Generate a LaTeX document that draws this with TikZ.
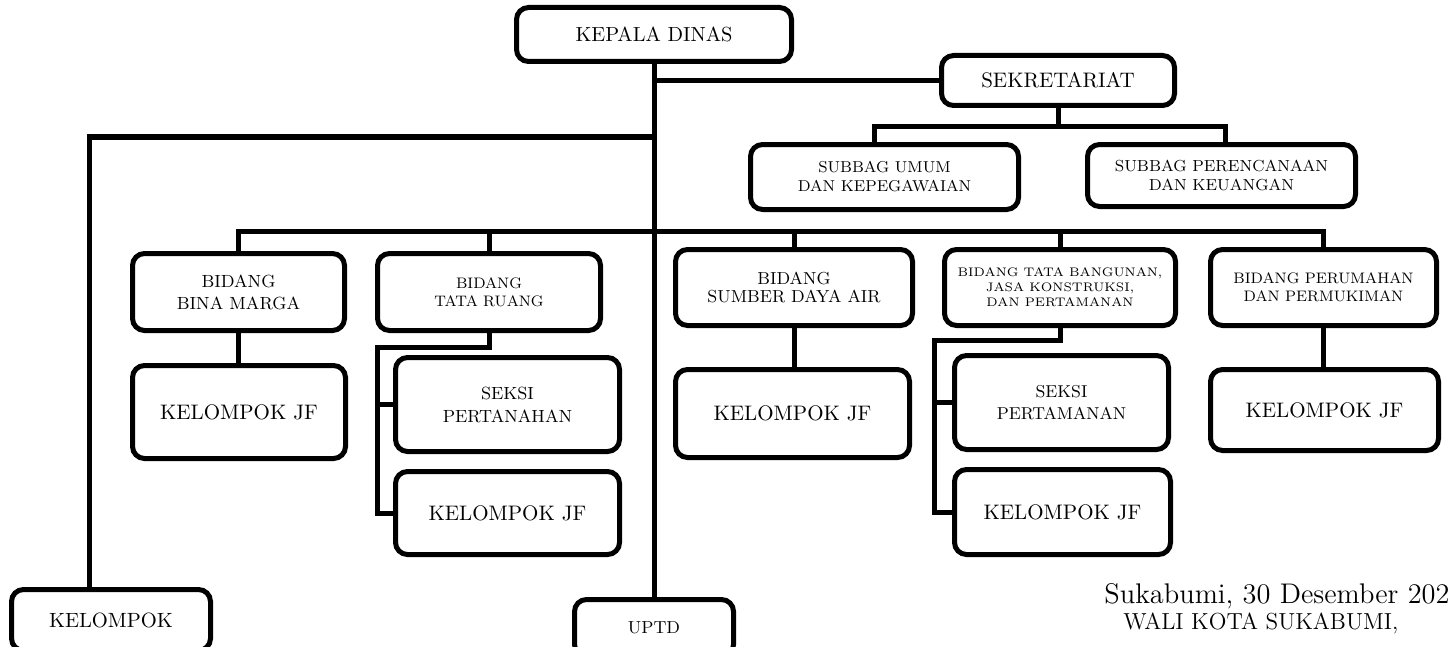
\documentclass[tikz,border=0pt]{standalone}
\usetikzlibrary{calc}

\begin{document}
\begin{tikzpicture}[x=0.5pt, y=-0.5pt,
  box/.style={draw, line width=2.5pt, rounded corners=6pt, align=center, inner sep=1pt},
  link/.style={line width=2.5pt}]
  \useasboundingbox (0,0) rectangle (1450,647);

  % top
  \node[box, minimum width=137.5pt, minimum height=27pt, font=\fontsize{10.2}{12}\selectfont] (kepala) at (654,34.5) {KEPALA DINAS};
  \node[box, minimum width=116.5pt, minimum height=25pt, font=\fontsize{10.5}{12}\selectfont] (sekre) at (1058,80.5) {SEKRETARIAT};
  \node[box, minimum width=134pt, minimum height=32.5pt, font=\fontsize{7.9}{9.5}\selectfont] (umum) at (884.5,177) {SUBBAG UMUM\\DAN KEPEGAWAIAN};
  \node[box, minimum width=134pt, minimum height=31pt, font=\fontsize{8}{9.8}\selectfont] (renc) at (1221.5,175.5) {SUBBAG PERENCANAAN\\DAN KEUANGAN};

  % bidang
  \node[box, minimum width=106pt, minimum height=38.5pt, font=\fontsize{8.8}{11}\selectfont] (marga) at (238.5,292) {BIDANG\\BINA MARGA};
  \node[box, minimum width=111.5pt, minimum height=38.5pt, font=\fontsize{7.6}{9}\selectfont] (ruang) at (489,292) {BIDANG\\TATA RUANG};
  \node[box, minimum width=118.5pt, minimum height=38pt, font=\fontsize{8.7}{9}\selectfont] (air) at (794,287.5) {BIDANG\\SUMBER DAYA AIR};
  \node[box, minimum width=115.5pt, minimum height=38pt, font=\fontsize{6.2}{7.5}\selectfont] (bangunan) at (1060,287.5) {BIDANG TATA BANGUNAN,\\JASA KONSTRUKSI,\\DAN PERTAMANAN};
  \node[box, minimum width=113pt, minimum height=38pt, font=\fontsize{7.6}{9}\selectfont] (rumah) at (1323.5,287.5) {BIDANG PERUMAHAN\\DAN PERMUKIMAN};

  % seksi dan kelompok jf
  \node[box, minimum width=106.5pt, minimum height=46.5pt, font=\fontsize{10.5}{12}\selectfont] (jfmarga) at (239,412) {KELOMPOK JF};
  \node[box, minimum width=112pt, minimum height=47pt, font=\fontsize{8.8}{11.5}\selectfont] (pertanahan) at (507.5,404.5) {SEKSI\\PERTANAHAN};
  \node[box, minimum width=112pt, minimum height=41.5pt, font=\fontsize{10.5}{12}\selectfont] (jfruang) at (507.5,513) {KELOMPOK JF};
  \node[box, minimum width=117pt, minimum height=44pt, font=\fontsize{10.5}{12}\selectfont] (jfair) at (792.5,413.5) {KELOMPOK JF};
  \node[box, minimum width=107pt, minimum height=47pt, font=\fontsize{8.6}{11}\selectfont] (pertamanan) at (1061.5,402.5) {SEKSI\\PERTAMANAN};
  \node[box, minimum width=108pt, minimum height=42.5pt, font=\fontsize{10.5}{12}\selectfont] (jfbangunan) at (1062.5,512) {KELOMPOK JF};
  \node[box, minimum width=114pt, minimum height=40.5pt, font=\fontsize{10.5}{12}\selectfont] (jfrumah) at (1324.5,410) {KELOMPOK JF};

  % bawah
  \node[box, minimum width=99.5pt, minimum height=30.5pt, font=\fontsize{10.3}{12}\selectfont] (kelompok) at (111,620) {KELOMPOK};
  \node[box, minimum width=79.5pt, minimum height=28.5pt, font=\fontsize{8.7}{10}\selectfont] (uptd) at (654,628) {UPTD};

  \node[anchor=base west, inner sep=0pt, font=\fontsize{14.2}{16}\selectfont] (tgl) at (1104,603) {Sukabumi, 30 Desember 202};
  \node[anchor=base west, inner sep=0pt, font=\fontsize{11.6}{13}\selectfont] (wali) at (1123,629) {WALI KOTA SUKABUMI,};

  \coordinate (kel) at (89,137);
  \coordinate (sb1) at (874,127);
  \coordinate (sb2) at (1225,127);
  \coordinate (bus) at (655,231);
  \coordinate (tr) at (377,347);
  \coordinate (tb) at (934,340);

  \draw[link] (kepala.south) -- (uptd.north);
  \draw[link] (kepala.south |- sekre.west) -- (sekre.west);
  \draw[link] (kepala.south |- kel) -- (kel) -- (kel |- kelompok.north);
  \draw[link] (sekre.south) -- (sekre.south |- sb1);
  \draw[link] (sb1 |- umum.north) -- (sb1) -- (sb2) -- (sb2 |- renc.north);
  \draw[link] (marga.north) |- (bus) -| (rumah.north);
  \foreach \b in {ruang,air,bangunan}
    \draw[link] (\b.north) -- (\b.north |- bus);
  \draw[link] (marga.south) -- (marga.south |- jfmarga.north);
  \draw[link] (air.south) -- (air.south |- jfair.north);
  \draw[link] (rumah.south) -- (rumah.south |- jfrumah.north);
  \draw[link] (ruang.south) |- (tr) -- (tr |- jfruang.west) -- (jfruang.west);
  \draw[link] (tr |- pertanahan.west) -- (pertanahan.west);
  \draw[link] (bangunan.south) |- (tb) -- (tb |- jfbangunan.west) -- (jfbangunan.west);
  \draw[link] (tb |- pertamanan.west) -- (pertamanan.west);
\end{tikzpicture}
\end{document}
